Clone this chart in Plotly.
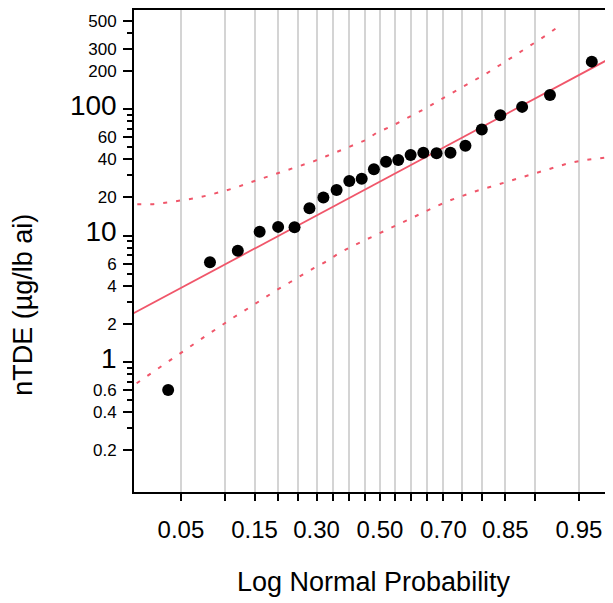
import plotly.graph_objects as go
from statistics import NormalDist

nd = NormalDist()

# ---- data ----
prob_points = [0.04, 0.08, 0.12, 0.16, 0.20, 0.24, 0.28, 0.32, 0.36, 0.40, 0.44, 0.48,
               0.52, 0.56, 0.60, 0.64, 0.68, 0.72, 0.76, 0.80, 0.84, 0.88, 0.92, 0.96]
ntde_values = [0.60, 6.14, 7.59, 10.7, 11.7, 11.6, 16.4, 20.0, 22.9, 27.0, 28.1, 33.4,
               38.3, 39.5, 43.3, 45.1, 44.7, 45.1, 51.3, 68.9, 89.2, 104, 129, 237]

fit_z = [-2.2, 2.2]
fit_values = [2.00, 357]

upper_z = [-2.006, -1.874, -1.758, -1.647, -1.529, -1.419, -1.308, -1.204, -1.093, -0.983,
           -0.874, -0.766, -0.655, -0.548, -0.440, -0.336, -0.221, -0.116, -0.027, 0.088,
           0.184, 0.289, 0.391, 0.496, 0.593, 0.694, 0.793, 0.895, 0.992, 1.088, 1.184,
           1.281, 1.378, 1.474]
upper_values = [17.7, 17.7, 18.2, 18.8, 19.7, 20.8, 22.2, 23.7, 25.9, 28.0,
                30.5, 32.8, 35.4, 38.6, 42.5, 46.6, 51.3, 56.9, 65.0, 72.5,
                80.9, 91.3, 103, 118, 133, 150, 172, 195, 223, 255, 291,
                334, 385, 448]

lower_z = [-2.011, -1.901, -1.804, -1.708, -1.620, -1.521, -1.427, -1.328, -1.234, -1.135,
           -1.039, -0.942, -0.845, -0.744, -0.647, -0.551, -0.446, -0.353, -0.248, -0.151,
           -0.055, 0.060, 0.165, 0.270, 0.372, 0.482, 0.587, 0.694, 0.804, 0.915,
           1.019, 1.130, 1.240, 1.350, 1.460, 1.570, 1.680, 1.804, 1.915]
lower_values = [0.679, 0.804, 0.918, 1.07, 1.23, 1.42, 1.64, 1.89, 2.18, 2.49,
                2.86, 3.28, 3.75, 4.27, 4.87, 5.50, 6.21, 7.10, 8.07, 8.93,
                9.91, 11.3, 12.6, 14.0, 15.6, 17.3, 19.1, 20.9, 22.6, 24.3,
                26.1, 28.0, 30.3, 32.5, 35.2, 37.6, 39.3, 40.5, 42.0]

x_grid_probs = [0.05, 0.10, 0.15, 0.20, 0.25, 0.30, 0.35, 0.40, 0.45, 0.50,
                0.55, 0.60, 0.65, 0.70, 0.75, 0.80, 0.85, 0.90, 0.95]
x_label_probs = ["0.05", "0.15", "0.30", "0.50", "0.70", "0.85", "0.95"]

y_major_vals = [0.2, 0.4, 0.6, 1, 2, 4, 6, 10, 20, 40, 60, 100, 200, 300, 500]
y_big_labels = [1, 10, 100]
y_minor_vals = [0.3, 0.5, 0.7, 0.8, 0.9, 3, 5, 7, 8, 9, 30, 50, 70, 80, 90, 400]

# ---- figure ----
red = "#F0566A"
fig = go.Figure()

fig.add_trace(go.Scatter(x=upper_z, y=upper_values, mode="lines",
                         line=dict(color=red, width=2, dash="4px,9px"), hoverinfo="skip"))
fig.add_trace(go.Scatter(x=lower_z, y=lower_values, mode="lines",
                         line=dict(color=red, width=2, dash="4px,9px"), hoverinfo="skip"))
fig.add_trace(go.Scatter(x=fit_z, y=fit_values, mode="lines",
                         line=dict(color=red, width=1.8), hoverinfo="skip"))
fig.add_trace(go.Scatter(x=[nd.inv_cdf(p) for p in prob_points], y=ntde_values,
                         mode="markers", marker=dict(color="black", size=12)))

x_tickvals = [nd.inv_cdf(p) for p in x_grid_probs]
x_ticktext = [f"{p:.2f}" if f"{p:.2f}" in x_label_probs else "" for p in x_grid_probs]


def ylab(v):
    s = f"{v:g}"
    if v in y_big_labels:
        return f'<span style="font-size:28px">{s}</span>'
    return s


# page body has an 8px margin, so the figure is sized to fit the 613x603 window
fig.update_layout(
    width=605, height=595,
    margin=dict(l=126, r=0, t=2, b=111),
    paper_bgcolor="white", plot_bgcolor="white",
    showlegend=False,
    font=dict(family="Liberation Sans, Arial, sans-serif", color="black"),
    xaxis=dict(
        range=[-2.033, 1.926], automargin=False,
        tickmode="array", tickvals=x_tickvals, ticktext=x_ticktext,
        showgrid=True, gridcolor="#d4d4d4", gridwidth=1.5,
        zeroline=False,
        showline=True, linecolor="black", linewidth=2, mirror=True,
        ticks="outside", ticklen=7, tickwidth=1.5, tickcolor="black",
        tickfont=dict(size=24), ticklabelstandoff=8,
    ),
    yaxis=dict(
        type="log", range=[-1.028, 2.783], automargin=False,
        tickmode="array", tickvals=y_major_vals, ticktext=[ylab(v) for v in y_major_vals],
        showgrid=False, zeroline=False,
        showline=True, linecolor="black", linewidth=2, mirror=False,
        ticks="outside", ticklen=9, tickwidth=1.5, tickcolor="black",
        tickfont=dict(size=17), ticklabelstandoff=3,
        minor=dict(tickmode="array", tickvals=y_minor_vals, ticks="outside",
                   ticklen=5, tickwidth=1.5, tickcolor="black", showgrid=False),
    ),
    annotations=[
        dict(text="Log Normal Probability", xref="paper", yref="paper",
             x=0.5, y=-0.187, xanchor="center", yanchor="middle",
             showarrow=False, font=dict(size=27)),
        dict(text="nTDE (µg/lb ai)", xref="paper", yref="paper",
             x=-0.232, y=0.388, xanchor="center", yanchor="middle", textangle=-90,
             showarrow=False, font=dict(size=27)),
    ],
)

fig.write_html("out.html")
